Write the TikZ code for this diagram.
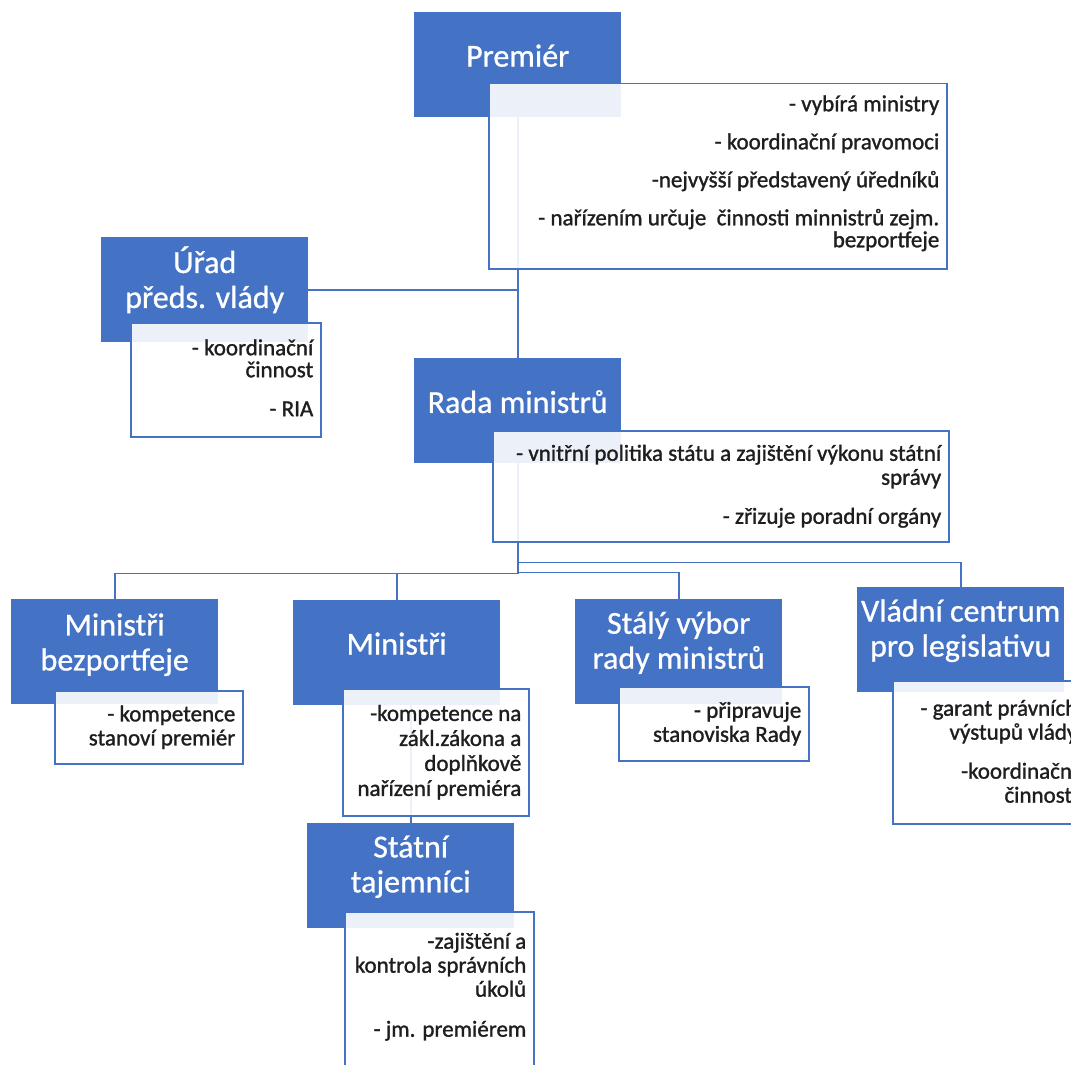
\documentclass[tikz,border=0pt]{standalone}
\usepackage{fontspec}
\setmainfont{Carlito}
\newfontfamily\bodyfont{Carlito}[RawFeature={embolden=1.2}]
\newfontfamily\headfont{Carlito}[RawFeature={embolden=0.8}]
\usetikzlibrary{calc}
\definecolor{accent}{HTML}{4472C4}
\definecolor{bodytxt}{HTML}{1E1E1E}
\begin{document}
\begin{tikzpicture}[x=1pt,y=-1pt,
  headbox/.style={fill=accent, draw=none, minimum width=207pt, minimum height=105pt, anchor=north west, inner sep=0pt},
  headtxt/.style={text=white, font=\headfont\fontsize{32}{35}\selectfont, align=center, inner sep=0pt},
  descbox/.style={fill=white, fill opacity=0.9, draw=accent, line width=1.5pt, anchor=north west, inner sep=0pt},
  desctxt/.style={anchor=east, align=right, inner sep=0pt, text=bodytxt, font=\bodyfont\fontsize{23}{24}\selectfont},
  conn/.style={draw=accent, line width=1.8pt}]
\useasboundingbox (0,0) rectangle (1071,1065);
\clip (0,0) rectangle (1071,1065);
\fill[white] (0,0) rectangle (1071,1065);

% blue head boxes
\node[headbox] (prem) at (414,12) {};
\node[headbox] (urad) at (101,237) {};
\node[headbox] (rada) at (414,358) {};
\node[headbox] (minb) at (11,599) {};
\node[headbox] (mini) at (293,600) {};
\node[headbox] (staly) at (575,599) {};
\node[headbox] (vlad) at (857,587) {};
\node[headbox] (stat) at (307,823) {};

% connectors
\draw[conn] (prem.south) -- (rada.north);
\draw[conn] (urad.east) -- (urad.east -| prem.south);
\draw[conn] (rada.south) -- ++(0,110) -| (minb.north);
\draw[conn] (rada.south) ++(0,110) -| (mini.north);
\draw[conn] (rada.south) ++(0,109) -| (staly.north);
\draw[conn] (rada.south) ++(0,99) -| (vlad.north);
\draw[conn] (mini.south -| stat.north) -- (stat.north);

% titles
\node[headtxt] (premL) at ($(prem.center)+(0,-9)$) {Premiér};
\node[headtxt] (uradL) at ($(urad.center)+(0,-10)$) {Úřad\\předs. vlády};
\node[headtxt] (radaL) at ($(rada.center)+(0,-9)$) {Rada ministrů};
\node[headtxt] (minbL) at ($(minb.center)+(0,-7)$) {Ministři\\bezportfeje};
\node[headtxt] (miniL) at ($(mini.center)+(0,-9)$) {Ministři};
\node[headtxt] (stalyL) at ($(staly.center)+(0,-9)$) {Stálý výbor\\rady ministrů};
\node[headtxt] (vladL) at ($(vlad.center)+(0,-9)$) {Vládní centrum\\pro legislativu};
\node[headtxt] (statL) at ($(stat.center)+(0,-9)$) {Státní\\tajemníci};

% description boxes
\node[descbox, minimum width=458pt, minimum height=185pt] (premD) at (488,83) {};
\node[descbox, minimum width=190pt, minimum height=114pt] (uradD) at (130,322) {};
\node[descbox, minimum width=456pt, minimum height=111pt] (radaD) at (492,430) {};
\node[descbox, minimum width=188pt, minimum height=73pt] (minbD) at (54,690) {};
\node[descbox, minimum width=186pt, minimum height=127pt] (miniD) at (342,688) {};
\node[descbox, minimum width=190pt, minimum height=74pt] (stalyD) at (618,686) {};
\node[descbox, minimum width=192pt, minimum height=143pt] (vladD) at (892,680) {};
\node[descbox, minimum width=189pt, minimum height=160pt] (statD) at (344,911) {};

% description texts
\node[desctxt] (premT) at ($(premD.east)+(-8,-3)$)
  {- vybírá ministry\\[14pt]- koordinační pravomoci\\[14pt]-nejvyšší představený úředníků\\[14pt]- nařízením určuje\ \ činnosti minnistrů zejm.\\[-2pt]bezportfeje};
\node[desctxt] (uradT) at ($(uradD.east)+(-8,-2)$)
  {- koordinační\\[-2pt]činnost\\[15pt]- RIA};
\node[desctxt] (radaT) at ($(radaD.east)+(-8,0)$)
  {- vnitřní politika státu a zajištění výkonu státní\\správy\\[15pt]- zřizuje poradní orgány};
\node[desctxt] (minbT) at ($(minbD.east)+(-8,0)$)
  {- kompetence\\stanoví premiér};
\node[desctxt] (miniT) at ($(miniD.east)+(-8,0)$)
  {-kompetence na\\[1pt]zákl.zákona a\\[1pt]doplňkově\\[1pt]nařízení premiéra};
\node[desctxt] (stalyT) at ($(stalyD.east)+(-8,0)$)
  {- připravuje\\stanoviska Rady};
\node[desctxt] (vladT) at ($(vladD.east)+(-8,-1)$)
  {- garant právních\\výstupů vlády\\[15pt]-koordinační\\činnosti};
\node[desctxt] (statT) at ($(statD.east)+(-8,-5)$)
  {-zajištění a\\kontrola správních\\úkolů\\[16pt]- jm. premiérem};
\end{tikzpicture}
\end{document}
